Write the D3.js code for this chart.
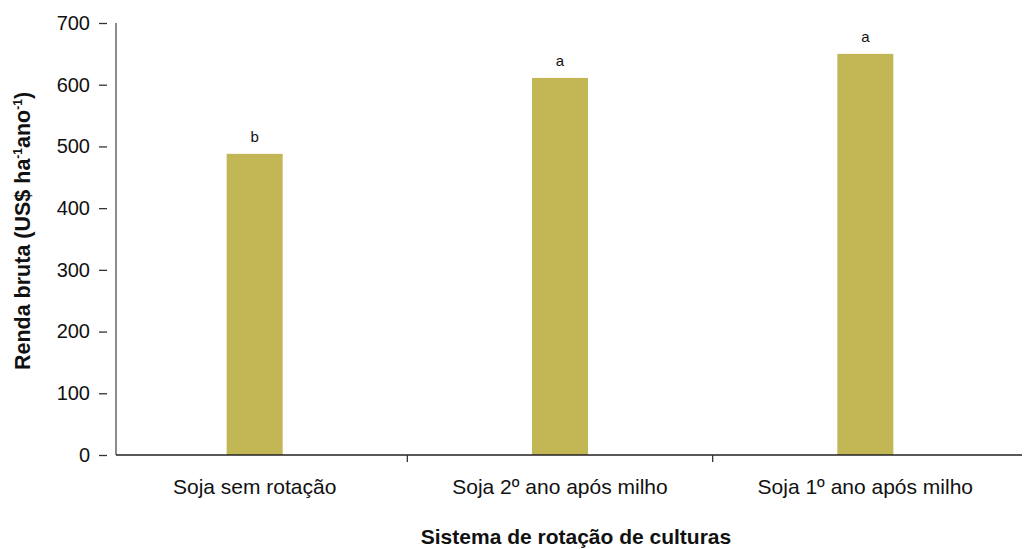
<!DOCTYPE html>
<html>
<head>
<meta charset="utf-8">
<script src="https://cdn.jsdelivr.net/npm/d3@7"></script>
<style>
  body { margin: 0; background: #fff; }
  text { font-family: "Liberation Sans", Arial, sans-serif; fill: #111; }
</style>
</head>
<body>
<div id="chart"></div>
<script>
// values
var categories = ["Soja sem rotação", "Soja 2º ano após milho", "Soja 1º ano após milho"];
var renda = [488, 611, 650];
var letras = ["b", "a", "a"];
var yTicks = [0, 100, 200, 300, 400, 500, 600, 700];

var width = 1026;
var height = 549;

var svg = d3.select("#chart").append("svg")
  .attr("width", width)
  .attr("height", height);

var y = d3.scaleLinear().domain([0, 700]).range([455, 23]);
var x = d3.scaleBand().domain(categories).range([102, 1018]);

var bars = categories.map(function(c, i) {
  return { cat: c, value: renda[i], letter: letras[i] };
});

// y axis ticks + labels (ticks sit apart from the axis line)
var yAxis = svg.append("g")
  .attr("transform", "translate(107,0)")
  .call(d3.axisLeft(y).tickValues(yTicks).tickSizeInner(8).tickSizeOuter(0).tickPadding(9));
yAxis.select(".domain").remove();
yAxis.selectAll("line").attr("stroke", "#333").attr("stroke-width", 1.3);
yAxis.selectAll("text")
  .style("font-family", "Liberation Sans, Arial, sans-serif")
  .style("font-size", "20px")
  .attr("fill", "#111");

// y axis line
svg.append("line")
  .attr("x1", 116).attr("x2", 116)
  .attr("y1", y(700)).attr("y2", y(0))
  .attr("stroke", "#666").attr("stroke-width", 1.5);

// bars
svg.selectAll("rect.bar")
  .data(bars)
  .enter().append("rect")
  .attr("class", "bar")
  .attr("x", function(d) { return x(d.cat) + x.bandwidth() / 2 - 28; })
  .attr("width", 56)
  .attr("y", function(d) { return y(d.value); })
  .attr("height", function(d) { return y(0) - y(d.value); })
  .attr("fill", "#c2b754");

// significance letters
svg.selectAll("text.letter")
  .data(bars)
  .enter().append("text")
  .attr("class", "letter")
  .attr("x", function(d) { return x(d.cat) + x.bandwidth() / 2; })
  .attr("y", function(d) { return y(d.value) - 12; })
  .attr("text-anchor", "middle")
  .style("font-size", "15px")
  .text(function(d) { return d.letter; });

// x axis line
svg.append("line")
  .attr("x1", 116).attr("x2", 1022)
  .attr("y1", y(0)).attr("y2", y(0))
  .attr("stroke", "#222").attr("stroke-width", 1.5);

// divider ticks between categories
svg.selectAll("line.divider")
  .data(categories.slice(1))
  .enter().append("line")
  .attr("class", "divider")
  .attr("x1", function(d) { return x(d); })
  .attr("x2", function(d) { return x(d); })
  .attr("y1", y(0)).attr("y2", y(0) + 7)
  .attr("stroke", "#333").attr("stroke-width", 1.3);

// category labels
svg.selectAll("text.cat")
  .data(categories)
  .enter().append("text")
  .attr("class", "cat")
  .attr("x", function(d) { return x(d) + x.bandwidth() / 2; })
  .attr("y", 494)
  .attr("text-anchor", "middle")
  .style("font-size", "21px")
  .text(function(d) { return d; });

// axis titles
svg.append("text")
  .attr("x", 576)
  .attr("y", 544)
  .attr("text-anchor", "middle")
  .style("font-size", "21px")
  .style("font-weight", "bold")
  .text("Sistema de rotação de culturas");

var yt = svg.append("text")
  .attr("transform", "translate(30,231) rotate(-90)")
  .attr("text-anchor", "middle")
  .style("font-size", "21.5px")
  .style("font-weight", "bold");
yt.append("tspan").text("Renda bruta (US$ ha");
yt.append("tspan").attr("dy", -8).style("font-size", "12px").text("-1");
yt.append("tspan").attr("dy", 8).text("ano");
yt.append("tspan").attr("dy", -8).style("font-size", "12px").text("-1");
yt.append("tspan").attr("dy", 8).text(")");
</script>
</body>
</html>
